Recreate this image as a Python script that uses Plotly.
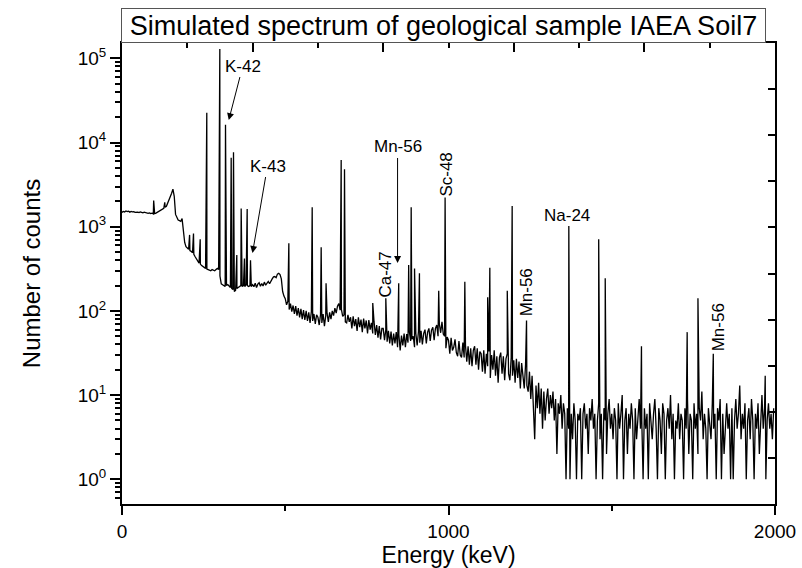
import math
import plotly.graph_objects as go

# ---------------- data ----------------
# continuum counts on a 4 keV channel grid, 0 ... 1996 keV
channel_start = 0
channel_width = 4
continuum_counts = [
    # 0 - 96
    1480, 1520, 1500, 1540, 1510, 1530, 1490, 1520, 1500, 1510, 1480, 1500, 1490,
    1470, 1500, 1480, 1460, 1490, 1470, 1450, 1440, 1460, 1430, 1450, 1420,
    # 100 - 196
    1430, 1450, 1480, 1500, 1530, 1560, 1600, 1650, 1700, 1750, 1900, 2050, 2250,
    2500, 2800, 2300, 1400, 1260, 1200, 1180, 1160, 1250, 900, 650, 580,
    # 200 - 296
    560, 540, 520, 510, 490, 470, 440, 410, 390, 370, 360, 345, 335,
    330, 320, 315, 310, 305, 300, 310, 305, 300, 310, 320, 310,
    # 300 - 396
    260, 210, 205, 200, 195, 200, 205, 195, 190, 185, 180, 170, 176,
    185, 190, 195, 200, 195, 200, 195, 205, 200, 195, 200, 195,
    # 400 - 496
    205, 194, 214, 190, 208, 216, 196, 212, 198, 220, 202, 216, 224,
    210, 230, 240, 254, 256, 248, 274, 280, 270, 240, 170, 150,
    # 500 - 596
    140, 118, 130, 104, 122, 98, 116, 92, 114, 88, 108, 84, 106,
    80, 102, 78, 100, 76, 96, 72, 98, 76, 92, 70, 90,
    # 600 - 696
    84, 68, 90, 72, 92, 66, 88, 94, 74, 96, 80, 100, 88,
    108, 94, 114, 122, 102, 104, 86, 90, 74, 72, 90, 74,
    # 700 - 796
    84, 62, 86, 66, 80, 58, 84, 64, 79, 56, 81, 62, 77,
    54, 78, 60, 72, 54, 74, 52, 68, 48, 66, 46, 62,
    # 800 - 896
    62, 45, 60, 43, 58, 41, 57, 39, 54, 41, 56, 37, 52,
    34, 51, 39, 54, 37, 53, 42, 57, 44, 46, 50, 37,
    # 900 - 996
    54, 39, 57, 42, 58, 40, 54, 60, 41, 56, 62, 44, 59,
    64, 45, 62, 68, 50, 70, 55, 74, 53, 50, 36, 49,
    # 1000 - 1096
    45, 31, 48, 34, 37, 46, 32, 29, 44, 30, 28, 42, 28,
    39, 25, 38, 23, 36, 22, 34, 38, 23, 36, 20, 33,
    # 1100 - 1196
    31, 19, 34, 18, 31, 22, 33, 16, 30, 20, 34, 17, 29,
    14, 28, 32, 18, 29, 15, 27, 31, 18, 15, 28, 17,
    # 1200 - 1296
    26, 14, 27, 16, 25, 12, 24, 15, 12, 23, 13, 11, 19,
    9, 17, 8, 3, 13, 7, 14, 6, 12, 4, 11, 5,
    # 1300 - 1396
    9, 12, 6, 10, 7, 11, 5, 9, 2, 8, 6, 10, 4,
    8, 6, 1, 7, 4, 1, 6, 3, 8, 5, 1, 6,
    # 1400 - 1496
    5, 7, 1, 6, 8, 4, 6, 2, 7, 5, 9, 4, 6,
    1, 5, 8, 3, 6, 1, 7, 5, 2, 6, 9, 4,
    # 1500 - 1596
    6, 3, 7, 5, 1, 8, 4, 6, 10, 1, 5, 7, 2,
    6, 4, 8, 5, 1, 7, 3, 6, 9, 4, 5, 1,
    # 1600 - 1696
    7, 4, 6, 1, 8, 5, 3, 6, 9, 4, 1, 7, 5,
    2, 8, 6, 1, 5, 7, 4, 10, 3, 6, 1, 5,
    # 1700 - 1796
    4, 8, 3, 6, 5, 1, 7, 4, 9, 2, 6, 5, 1,
    8, 4, 6, 2, 7, 5, 11, 3, 6, 4, 1, 7,
    # 1800 - 1896
    5, 3, 8, 4, 6, 1, 7, 5, 9, 1, 6, 2, 5,
    8, 4, 6, 1, 7, 1, 5, 9, 4, 6, 13, 3,
    # 1900 - 1996
    6, 4, 8, 1, 5, 7, 3, 9, 5, 1, 6, 4, 8,
    2, 6, 10, 4, 7, 1, 5, 8, 4, 6, 3, 7,
]

# full-energy peaks (keV, counts at the peak channel)
peak_energy = [97, 131, 207, 219, 239.5, 259.7, 299.6, 317, 334.4, 341.5,
               351.6, 365, 375, 383.4, 393.6, 511, 582.5, 610, 625, 671.3,
               681.5, 768, 808, 847.5, 878, 885.7, 896, 911, 970, 989.6,
               1050, 1120, 1126.6, 1180, 1195, 1239, 1368.5, 1460, 1480, 1591,
               1731, 1764, 1811, 1970]
peak_counts = [2050, 1950, 800, 830, 710, 22600, 129000, 16300, 6600, 7650,
               460, 1650, 420, 1620, 400, 635, 1700, 570, 213, 6200,
               4800, 124, 141, 213, 350, 1700, 320, 280, 174, 2230,
               222, 145, 326, 174, 1760, 77, 1020, 710, 244, 38,
               56, 141, 31, 17]

# nuclide labels without arrows
label_text = ["Ca-47", "Sc-48", "Na-24", "Mn-56", "Mn-56"]
label_energy = [804, 991, 1364, 1239, 1827]
label_counts = [267, 4110, 1377, 164, 63]
label_angle = [-90, -90, 0, -90, -90]

# arrowed labels: text, arrow-head energy/counts, text offset (px)
arrow_text = ["K-42", "K-43", "Mn-56"]
arrow_energy = [327, 399.7, 844]
arrow_counts = [18500, 487, 371]
arrow_dx = [14, 15, 0]
arrow_dy = [-54, -87, -116]

title_text = "Simulated spectrum of geological sample IAEA Soil7"
x_title = "Energy (keV)"
y_title = "Number of counts"
y_tick_vals = [1, 10, 100, 1000, 10000, 100000]
y_tick_text = ["10<sup>0</sup>", "10<sup>1</sup>", "10<sup>2</sup>",
               "10<sup>3</sup>", "10<sup>4</sup>", "10<sup>5</sup>"]

# ---------------- assemble spectrum ----------------
channel_energy = [channel_start + i * channel_width for i in range(len(continuum_counts))]
pts = sorted(list(zip(channel_energy, continuum_counts)) + list(zip(peak_energy, peak_counts)))
spec_x = [p[0] for p in pts]
spec_y = [p[1] for p in pts]

FONT = "Liberation Sans, Arial, sans-serif"

fig = go.Figure()
fig.add_trace(go.Scatter(x=spec_x, y=spec_y, mode="lines",
                         line=dict(color="black", width=1.3), showlegend=False,
                         hoverinfo="skip"))
# empty trace to carry the top / right frame axes
fig.add_trace(go.Scatter(x=[], y=[], xaxis="x2", yaxis="y2", showlegend=False))

minor_vals = [m * 10 ** k for k in range(-1, 6) for m in range(2, 10)]

fig.update_layout(
    width=802, height=568,
    margin=dict(l=122, r=27, t=43, b=64, autoexpand=False),
    paper_bgcolor="white", plot_bgcolor="white",
    font=dict(family=FONT, color="black", size=19),
    xaxis=dict(range=[0, 2000], tickmode="linear", tick0=0, dtick=1000, automargin=False,
               ticks="outside", ticklen=9, tickwidth=2, tickcolor="black",
               minor=dict(dtick=500, ticks="outside", ticklen=5, tickwidth=2, tickcolor="black"),
               showline=True, linecolor="black", linewidth=2, showgrid=False, zeroline=False,
               tickfont=dict(size=19),
               title=dict(text=x_title, font=dict(size=23), standoff=2)),
    yaxis=dict(type="log", range=[-0.293, 5.182], automargin=False,
               tickmode="array", tickvals=y_tick_vals, ticktext=y_tick_text,
               ticks="outside", ticklen=10, tickwidth=2, tickcolor="black",
               minor=dict(tickmode="array", tickvals=minor_vals, ticks="outside",
                          ticklen=5, tickwidth=1.5, tickcolor="black"),
               showline=True, linecolor="black", linewidth=2, showgrid=False, zeroline=False,
               tickfont=dict(size=19),
               title=dict(text=y_title, font=dict(size=24), standoff=30)),
    xaxis2=dict(overlaying="x", side="top", range=[0, 2000], tickmode="linear", tick0=0,
                automargin=False,
                dtick=400, ticks="inside", ticklen=9, tickwidth=2, tickcolor="black",
                minor=dict(dtick=200, ticks="inside", ticklen=5, tickwidth=2, tickcolor="black"),
                showticklabels=False, showline=True, linecolor="black", linewidth=2,
                showgrid=False, zeroline=False),
    yaxis2=dict(overlaying="y", side="right", range=[0, 10], tickmode="linear", tick0=0,
                automargin=False,
                dtick=1, ticks="inside", ticklen=7, tickwidth=2, tickcolor="black",
                showticklabels=False, showline=True, linecolor="black", linewidth=2,
                showgrid=False, zeroline=False),
)

annotations = [dict(text=title_text, xref="paper", yref="paper", x=0.4923, y=1.0374,
                    xanchor="center", yanchor="middle", showarrow=False,
                    font=dict(size=27), bordercolor="#555", borderwidth=1, borderpad=1,
                    bgcolor="white", width=641, height=31)]
for t, e, c, a in zip(label_text, label_energy, label_counts, label_angle):
    annotations.append(dict(text=t, x=e, y=math.log10(c), xref="x", yref="y",
                            showarrow=False, textangle=a, font=dict(size=17),
                            xanchor="center", yanchor="middle"))
for t, e, c, dx, dy in zip(arrow_text, arrow_energy, arrow_counts, arrow_dx, arrow_dy):
    annotations.append(dict(text=t, x=e, y=math.log10(c), xref="x", yref="y",
                            showarrow=True, ax=dx, ay=dy, arrowhead=2, arrowsize=1.4,
                            arrowwidth=1, arrowcolor="black", standoff=0,
                            font=dict(size=17)))
fig.update_layout(annotations=annotations)

fig.write_html("out.html", config={"displayModeBar": False},
               post_script="document.body.style.margin='0';document.body.style.padding='0';")
